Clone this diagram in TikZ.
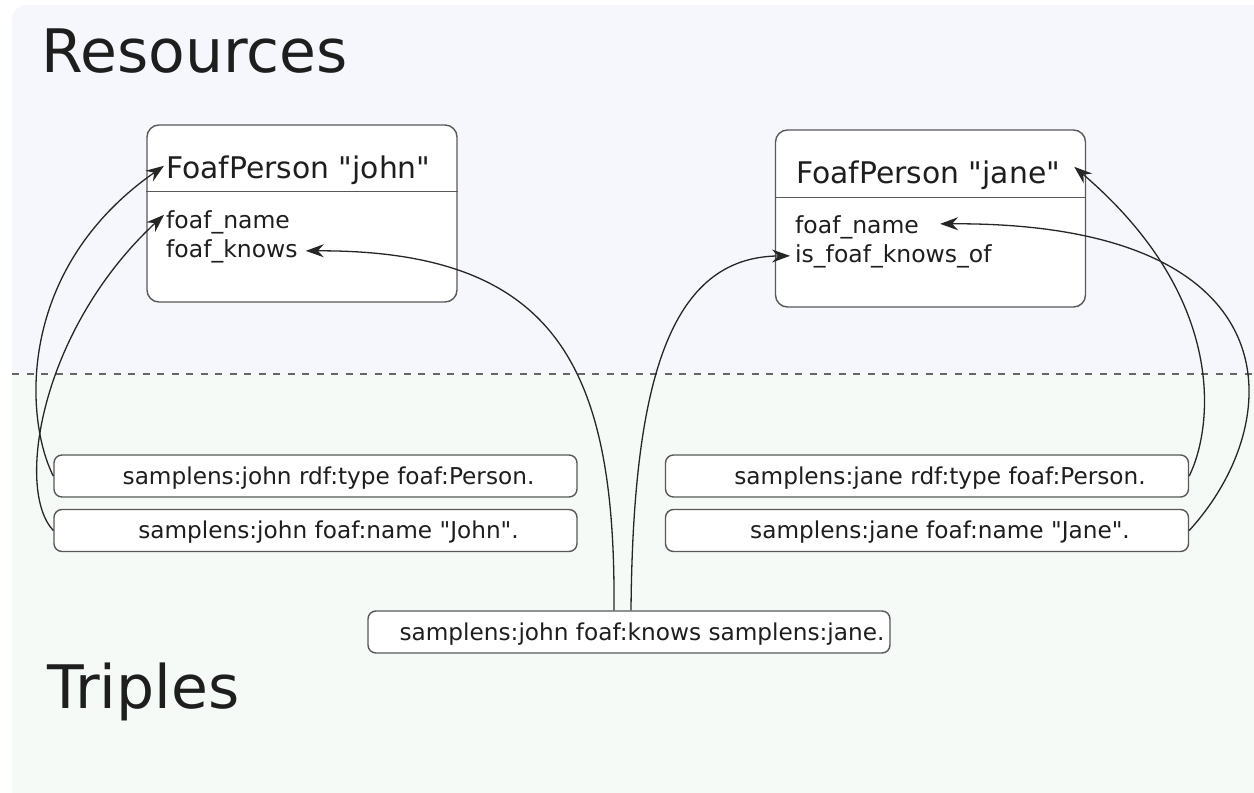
\documentclass[tikz,border=0pt]{standalone}
\usepackage{fontspec}
\setmainfont{DejaVu Sans}[Ligatures=TeXOff]
\usetikzlibrary{arrows.meta}

\definecolor{resbg}{HTML}{F6F7FC}
\definecolor{tribg}{HTML}{F5FAF6}
\definecolor{ink}{HTML}{1E1E1E}

\tikzset{
  classbox/.style={draw=black!65, line width=1.4pt, fill=white, rounded corners=12pt,
    minimum width=310pt, minimum height=177pt, inner sep=0pt},
  triple/.style={draw=black!65, line width=1.4pt, fill=white, rounded corners=8pt,
    minimum width=523pt, minimum height=42pt, inner sep=0pt, text=ink,
    text height=22pt, text depth=5.5pt, font=\fontsize{23.2}{26}\selectfont},
  heading/.style={anchor=base west, inner sep=0pt, text=ink, font=\fontsize{60}{64}\selectfont},
  classname/.style={anchor=base west, inner sep=0pt, text=ink, font=\fontsize{29.8}{32}\selectfont},
  field/.style={anchor=base west, inner sep=0pt, text=ink, font=\fontsize{23.5}{26}\selectfont},
}

\begin{document}
\begin{tikzpicture}[x=1pt, y=-1pt,
    link/.style={draw=black!85, line width=1.3pt, -{Stealth[length=18pt,width=13pt,inset=6pt]}}]
  \useasboundingbox (0,0) rectangle (1254,793);
  \clip (0,0) rectangle (1254,793);

  % Backgrounds
  \fill[resbg, rounded corners=14pt] (12,5) rectangle (1280,420);
  \fill[tribg] (12,374) rectangle (1254,793);
  \draw[black!60, line width=1.8pt, dash pattern=on 7pt off 7.5pt] (12,374) -- (1254,374);

  % Headings
  \node[heading] (resources) at (41,72) {Resources};
  \node[heading] (triples) at (47,708) {Triples};

  % Resource "john"
  \node[classbox] (john) at (302,213.5) {};
  \draw[black!65, line width=1.4pt] ([yshift=-67pt]john.north west) -- ([yshift=-67pt]john.north east);
  \node[classname] (johntitle) at (166,178) {FoafPerson "john"};
  \node[field] (johnname) at (166,228) {foaf\_name};
  \node[field] (johnknows) at (166,257) {foaf\_knows};

  % Resource "jane"
  \node[classbox] (jane) at (930.5,218.5) {};
  \draw[black!65, line width=1.4pt] ([yshift=-68pt]jane.north west) -- ([yshift=-68pt]jane.north east);
  \node[classname] (janetitle) at (796,183) {FoafPerson "jane"};
  \node[field] (janename) at (795,233) {foaf\_name};
  \node[field] (janeknown) at (795,262) {is\_foaf\_knows\_of};

  % Triples
  \node[triple] (johntype) at (315.5,476) {\hskip26pt samplens:john rdf:type foaf:Person.};
  \node[triple] (johnlabel) at (315.5,530.5) {\hskip26pt samplens:john foaf:name "John".};
  \node[triple] (janetype) at (927,476) {\hskip26pt samplens:jane rdf:type foaf:Person.};
  \node[triple] (janelabel) at (927,530.5) {\hskip26pt samplens:jane foaf:name "Jane".};
  \node[triple, minimum width=522pt] (knows) at (629,632) {\hskip26pt samplens:john foaf:knows samplens:jane.};

  % Links from triples to attributes
  \draw[link] (johntype.west) .. controls (25,420) and (15,270) .. ([xshift=-2pt,yshift=4pt]johntitle.west);
  \draw[link] (johnlabel.west) .. controls (15,490) and (40,330) .. ([xshift=-2pt,yshift=7pt]johnname.west);
  \draw[link] ([xshift=-15pt]knows.north) .. controls (616,365) and (555,250) .. ([xshift=8pt]johnknows.east);
  \draw[link] ([xshift=2pt]knows.north) .. controls (633,380) and (670,257) .. ([xshift=-5pt]janeknown.west);
  \draw[link] (janetype.east) .. controls (1212,430) and (1230,300) .. ([xshift=14pt,yshift=8pt]janetitle.east);
  \draw[link] (janelabel.east) .. controls (1290,420) and (1295,222) .. ([xshift=21pt,yshift=3pt]janename.east);
\end{tikzpicture}
\end{document}
